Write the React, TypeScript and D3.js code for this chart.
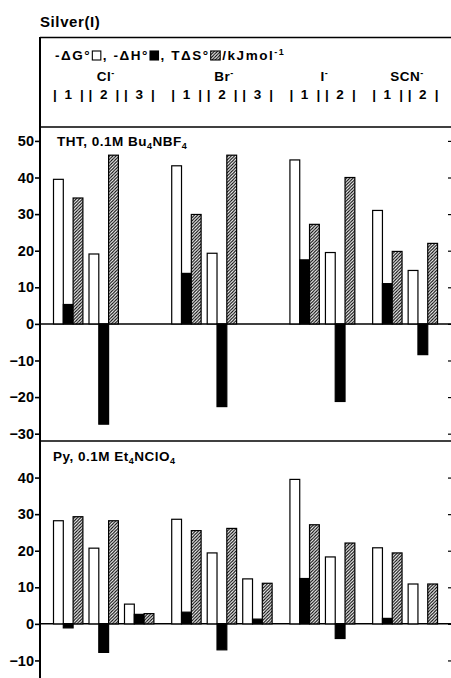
import React, { useEffect, useRef } from "react";
import * as d3 from "d3";

// ---------- data ----------
const anions = ["Cl", "Br", "I", "SCN"];
const ligandLabels = [["1", "2", "3"], ["1", "2", "3"], ["1", "2"], ["1", "2"]];
const yTicksTop = [-30, -20, -10, 0, 10, 20, 30, 40, 50];
const yTicksBottom = [-10, 0, 10, 20, 30, 40];

// THT, 0.1M Bu4NBF4 (slots: Cl1 Cl2 Cl3 Br1 Br2 Br3 I1 I2 SCN1 SCN2)
const thtDG = [39.5, 19.1, null, 43.2, 19.3, null, 44.8, 19.5, 31.0, 14.6];
const thtDH = [5.3, -27.4, null, 13.8, -22.6, null, 17.5, -21.2, 11.0, -8.4];
const thtTS = [34.4, 46.1, null, 29.9, 46.1, null, 27.2, 40.0, 19.8, 22.0];

// Py, 0.1M Et4NClO4
const pyDG = [28.2, 20.7, 5.4, 28.6, 19.4, 12.3, 39.5, 18.3, 20.8, 10.9];
const pyDH = [-1.1, -7.8, 2.6, 3.2, -7.1, 1.3, 12.4, -4.0, 1.5, 0];
const pyTS = [29.3, 28.2, 2.8, 25.5, 26.1, 11.1, 27.1, 22.1, 19.4, 10.9];

const seriesKeys = ["dg", "dh", "ts"];

const W = 451;
const H = 678;
const FONT = "'Liberation Sans', Arial, Helvetica, sans-serif";

export default function App() {
  const ref = useRef<SVGSVGElement>(null);

  useEffect(() => {
    document.body.style.margin = "0";
    const svg = d3.select(ref.current);
    svg.selectAll("*").remove();
    svg.attr("font-family", FONT).attr("font-weight", "bold");

    // hatch pattern
    const defs = svg.append("defs");
    const pat = defs
      .append("pattern")
      .attr("id", "hatch")
      .attr("patternUnits", "userSpaceOnUse")
      .attr("width", 3.2)
      .attr("height", 3.2);
    pat.append("rect").attr("width", 3.2).attr("height", 3.2).attr("fill", "#fff");
    pat
      .append("path")
      .attr("d", "M-0.8,0.8 L0.8,-0.8 M0,3.2 L3.2,0 M2.4,4 L4,2.4")
      .attr("stroke", "#000")
      .attr("stroke-width", 1.1);

    // slot layout
    const GAP = 0.33;
    const slots: { a: number; label: string; u: number }[] = [];
    let k = 0;
    anions.forEach((_, a) => {
      ligandLabels[a].forEach((lab) => {
        slots.push({ a, label: lab, u: k + a * GAP });
        k++;
      });
    });
    const x = d3.scaleLinear().domain([0, 10]).range([53.5, 53.5 + 355]);
    const inner = d3.scaleBand().domain(seriesKeys).range([0, 29.4]);
    const bw = inner.bandwidth();

    const yTop = d3.scaleLinear().domain([-32, 53.8]).range([441, 127]);
    const yBot = d3.scaleLinear().domain([-14.8, 50]).range([678, 441]);

    // ----- header -----
    svg
      .append("text")
      .attr("x", 40)
      .attr("y", 27)
      .attr("font-size", 15)
      .attr("letter-spacing", 0.6)
      .text("Silver(I)");

    // legend row (flowing layout, fitted to reference width 55..287)
    const ly = 60;
    const legG = svg.append("g").attr("font-size", 13.5);
    type Item = { kind: "text"; s: string; sup?: string } | { kind: "sw"; fill: string; w: number };
    const items: Item[] = [
      { kind: "text", s: "-ΔG°" },
      { kind: "sw", fill: "#fff", w: 8.5 },
      { kind: "text", s: ", -ΔH°" },
      { kind: "sw", fill: "#000", w: 8.5 },
      { kind: "text", s: ", TΔS°" },
      { kind: "sw", fill: "url(#hatch)", w: 9.5 },
      { kind: "text", s: " /kJmol", sup: "-1" },
    ];
    const texts: any[] = [];
    items.forEach((it) => {
      if (it.kind === "text") {
        const t = legG.append("text").attr("y", ly);
        t.append("tspan").text(it.s);
        if (it.sup) t.append("tspan").attr("dy", -5).attr("font-size", 9).text(it.sup);
        texts.push(t);
      }
    });
    // measure
    let natural = 0;
    let nChars = 0;
    texts.forEach((t, i) => {
      natural += (t.node() as SVGTextElement).getComputedTextLength();
      nChars += t.text().length;
    });
    const swTotal = items.reduce((s, it) => s + (it.kind === "sw" ? it.w + 3 : 0), 0);
    const target = 287 - 55;
    const ls = Math.max(0, (target - natural - swTotal) / nChars);
    let cx = 55;
    let ti = 0;
    items.forEach((it) => {
      if (it.kind === "text") {
        const t = texts[ti++];
        t.attr("letter-spacing", ls).attr("x", cx);
        cx += (t.node() as SVGTextElement).getComputedTextLength();
      } else {
        cx += 1;
        legG
          .append("rect")
          .attr("x", cx)
          .attr("y", 51)
          .attr("width", it.w)
          .attr("height", 9)
          .attr("fill", it.fill)
          .attr("stroke", "#000")
          .attr("stroke-width", 1.1);
        cx += it.w + 2;
      }
    });

    // anion labels
    anions.forEach((an, a) => {
      const s = slots.filter((d) => d.a === a);
      const x0 = x(s[0].u);
      const x1 = x(s[s.length - 1].u) + 29.4;
      const t = svg
        .append("text")
        .attr("x", (x0 + x1) / 2 + 2)
        .attr("y", 81)
        .attr("font-size", 13.5)
        .attr("text-anchor", "middle")
        .attr("letter-spacing", 0.5);
      t.append("tspan").text(an);
      t.append("tspan").attr("dy", -5).attr("font-size", 9).text("-");
    });

    // ligand number row
    const rowG = svg.append("g").attr("font-size", 13.5).attr("text-anchor", "middle");
    slots.forEach((d) => {
      const x0 = x(d.u);
      rowG.append("text").attr("x", x0 + 1.5).attr("y", 99).text("|");
      rowG.append("text").attr("x", x0 + 14.7).attr("y", 99).text(d.label);
      rowG.append("text").attr("x", x0 + 28.5).attr("y", 99).text("|");
    });

    // ----- frame lines -----
    const frame = svg.append("g").attr("stroke", "#000").attr("fill", "none");
    frame.append("line").attr("x1", 40).attr("x2", W).attr("y1", 37.5).attr("y2", 37.5).attr("stroke-width", 1.5);
    frame.append("line").attr("x1", 40).attr("x2", W).attr("y1", 127).attr("y2", 127).attr("stroke-width", 1.5);
    frame.append("line").attr("x1", 40).attr("x2", W).attr("y1", 441).attr("y2", 441).attr("stroke-width", 1.5);

    // ----- panels -----
    const drawPanel = (
      y: d3.ScaleLinear<number, number>,
      ticks: number[],
      dg: (number | null)[],
      dh: (number | null)[],
      ts: (number | null)[],
      label: [string, string, string, string, string],
      labelX: number,
      labelY: number
    ) => {
      const g = svg.append("g");
      // left axis
      const ax = g
        .append("g")
        .attr("transform", "translate(40,0)")
        .call(d3.axisLeft(y).tickValues(ticks).tickSize(5).tickPadding(1).tickFormat(d3.format("d")));
      ax.select(".domain").remove();
      ax.selectAll(".tick line").attr("stroke-width", 1.6);
      ax.selectAll(".tick text")
        .attr("font-family", FONT)
        .attr("font-weight", "bold")
        .attr("font-size", 14.5)
        .attr("fill", "#000");
      // right ticks
      const ax2 = g
        .append("g")
        .attr("transform", `translate(${W},0)`)
        .call(d3.axisLeft(y).tickValues(ticks).tickSize(3).tickFormat(() => ""));
      ax2.select(".domain").remove();
      ax2.selectAll(".tick line").attr("stroke-width", 1.2);

      // zero line
      g.append("line")
        .attr("x1", 40)
        .attr("x2", W)
        .attr("y1", y(0))
        .attr("y2", y(0))
        .attr("stroke", "#000")
        .attr("stroke-width", 1.5);

      const series: { key: string; vals: (number | null)[]; fill: string }[] = [
        { key: "dg", vals: dg, fill: "#fff" },
        { key: "dh", vals: dh, fill: "#000" },
        { key: "ts", vals: ts, fill: "url(#hatch)" },
      ];
      series.forEach((s) => {
        g.append("g")
          .selectAll("rect")
          .data(slots.map((d, i) => ({ d, v: s.vals[i] })).filter((o) => o.v !== null && o.v !== 0))
          .join("rect")
          .attr("x", (o) => x(o.d.u) + (inner(s.key) as number))
          .attr("width", bw)
          .attr("y", (o) => Math.min(y(0), y(o.v as number)))
          .attr("height", (o) => Math.abs(y(o.v as number) - y(0)))
          .attr("fill", s.fill)
          .attr("stroke", "#000")
          .attr("stroke-width", 1.2);
      });

      // panel label
      const t = g
        .append("text")
        .attr("x", labelX)
        .attr("y", labelY)
        .attr("font-size", 13.5)
        .attr("letter-spacing", 0.5);
      t.append("tspan").text(label[0]);
      t.append("tspan").attr("dy", 3).attr("font-size", 9).text(label[1]);
      t.append("tspan").attr("dy", -3).text(label[2]);
      t.append("tspan").attr("dy", 3).attr("font-size", 9).text(label[3]);
      t.append("tspan").attr("dy", -3).text(label[4]);
    };

    drawPanel(yTop, yTicksTop, thtDG, thtDH, thtTS, ["THT, 0.1M Bu", "4", "NBF", "4", ""], 57, 146);
    drawPanel(yBot, yTicksBottom, pyDG, pyDH, pyTS, ["Py, 0.1M Et", "4", "NClO", "4", ""], 53, 461);

    // left axis line over everything
    svg
      .append("line")
      .attr("x1", 40)
      .attr("x2", 40)
      .attr("y1", 37)
      .attr("y2", H)
      .attr("stroke", "#000")
      .attr("stroke-width", 2);
  }, []);

  return <svg ref={ref} width={W} height={H} style={{ display: "block", background: "#fff" }} />;
}
